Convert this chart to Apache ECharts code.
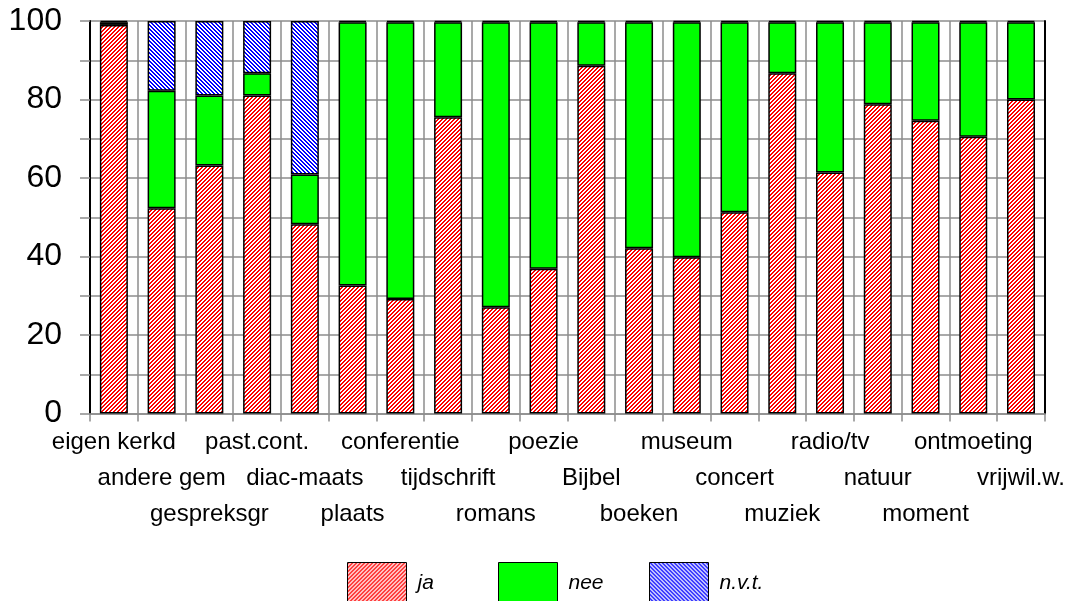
<!DOCTYPE html>
<html>
<head>
<meta charset="utf-8">
<script src="https://cdn.jsdelivr.net/npm/echarts@6/dist/echarts.min.js"></script>
<style>
html,body{margin:0;padding:0;background:#fff;}
#chart{width:1068px;height:601px;}
</style>
</head>
<body>
<div id="chart"></div>
<script>
const categories = ['eigen kerkd','andere gem','gespreksgr','past.cont.','diac-maats','plaats','conferentie','tijdschrift','romans','poezie','Bijbel','boeken','museum','concert','muziek','radio/tv','natuur','moment','ontmoeting','vrijwil.w.'];
const jaValues  = [99.0, 52.3, 63.2, 81.0, 48.2, 32.6, 29.2, 75.5, 27.1, 36.9, 88.6, 42.1, 39.8, 51.3, 86.7, 61.4, 78.8, 74.6, 70.5, 80.0];
const neeValues = [0.7, 29.9, 17.8, 5.7, 12.7, 67.1, 70.5, 24.2, 72.6, 62.8, 11.1, 57.6, 59.9, 48.4, 13.0, 38.3, 20.9, 25.1, 29.2, 19.7];
const nvtValues = [0.3, 17.8, 19.0, 13.3, 39.1, 0.3, 0.3, 0.3, 0.3, 0.3, 0.3, 0.3, 0.3, 0.3, 0.3, 0.3, 0.3, 0.3, 0.3, 0.3];
const seriesNames = ['ja', 'nee', 'n.v.t.'];
const yTicks = [0, 20, 40, 60, 80, 100];

function hatch(color, forward) {
  const n = 4;
  const c = document.createElement('canvas');
  c.width = n; c.height = n;
  const g = c.getContext('2d');
  g.fillStyle = '#ffffff';
  g.fillRect(0, 0, n, n);
  g.fillStyle = color;
  for (let x = 0; x < n; x++) {
    for (let y = 0; y < n; y++) {
      const k = forward ? (x + y) % n : (x - y + n) % n;
      if (k < 2) g.fillRect(x, y, 1, 1);
    }
  }
  return { image: c, repeat: 'repeat' };
}

const redHatch = hatch('#ff0000', true);
const blueHatch = hatch('#0000ff', false);
const FONT = 'Liberation Sans, Arial, sans-serif';
const grid = '#8c8c8c';

function legendAt(name, left) {
  return {
    data: [name], left: left, top: 562, padding: 0,
    icon: 'rect', itemWidth: 59, itemHeight: 41,
    itemStyle: { borderColor: '#000', borderWidth: 1 },
    textStyle: { fontFamily: FONT, fontSize: 21, fontStyle: 'italic', color: '#000', padding: [0, 0, 0, 6] },
    selectedMode: false
  };
}

const chart = echarts.init(document.getElementById('chart'), null, { renderer: 'canvas' });
const barStyle = (color) => ({ color: color, borderColor: '#000', borderWidth: 1.5 });

chart.setOption({
  animation: false,
  backgroundColor: '#fff',
  grid: { left: 90, right: 23, top: 21, bottom: 187.5, containLabel: false },
  legend: [legendAt('ja', 347), legendAt('nee', 498), legendAt('n.v.t.', 649)],
  xAxis: {
    type: 'category',
    data: categories,
    boundaryGap: true,
    axisLine: { lineStyle: { color: grid, width: 1.5 } },
    axisTick: { show: true, length: 8, interval: 0, lineStyle: { color: grid, width: 1.5 } },
    splitLine: { show: true, interval: 0, lineStyle: { color: grid, width: 1.5 } },
    axisLabel: {
      interval: 0, margin: 11, color: '#000', fontFamily: FONT, fontSize: 24, lineHeight: 36,
      formatter: (v, i) => '\n'.repeat(i % 3) + v
    }
  },
  yAxis: [{
    type: 'value', min: 0, max: 100, interval: 10,
    axisLine: { show: true, lineStyle: { color: '#000', width: 2 } },
    axisTick: { show: true, length: 10, lineStyle: { color: grid, width: 1.5 } },
    splitLine: { show: true, lineStyle: { color: grid, width: 1.5 } },
    axisLabel: {
      margin: 28, color: '#000', fontFamily: FONT, fontSize: 32,
      formatter: (v) => yTicks.includes(v) ? String(v) : ''
    }
  }, {
    type: 'value', min: 0, max: 100, interval: 10, position: 'right',
    axisLine: { show: true, lineStyle: { color: '#000', width: 2 } },
    axisTick: { show: false }, axisLabel: { show: false }, splitLine: { show: false }
  }],
  series: [
    { name: seriesNames[0], type: 'bar', stack: 's', barWidth: 28, data: jaValues, itemStyle: barStyle(redHatch) },
    { name: seriesNames[1], type: 'bar', stack: 's', barWidth: 28, data: neeValues, itemStyle: barStyle('#00ff00') },
    { name: seriesNames[2], type: 'bar', stack: 's', barWidth: 28, data: nvtValues, itemStyle: barStyle(blueHatch) }
  ]
});
</script>
</body>
</html>
